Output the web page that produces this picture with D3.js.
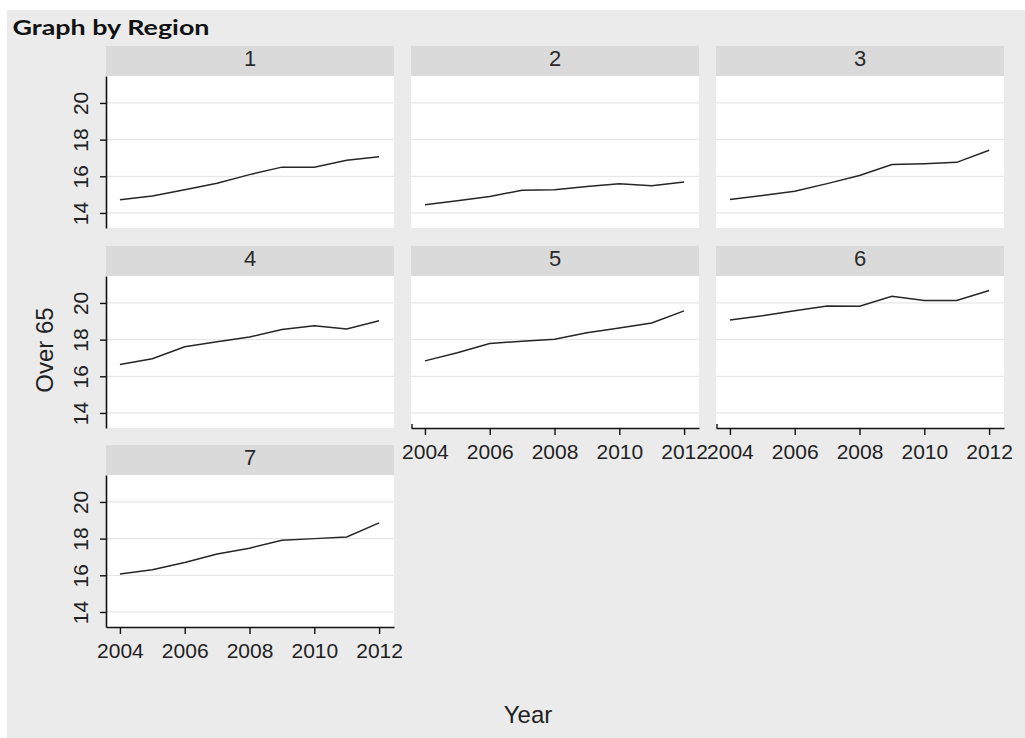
<!DOCTYPE html>
<html>
<head>
<meta charset="utf-8">
<script src="https://cdn.jsdelivr.net/npm/d3@7"></script>
<style>
  html, body { margin: 0; padding: 0; background: #ffffff; }
  svg { display: block; }
</style>
</head>
<body>
<svg id="chart" width="1025" height="738"></svg>
<script>
// ---- data ----
const years = [2004, 2005, 2006, 2007, 2008, 2009, 2010, 2011, 2012];
const regions = ["1", "2", "3", "4", "5", "6", "7"];
const region1 = [14.72, 14.92, 15.27, 15.62, 16.09, 16.50, 16.50, 16.87, 17.07];
const region2 = [14.45, 14.67, 14.90, 15.24, 15.27, 15.45, 15.60, 15.49, 15.69];
const region3 = [14.73, 14.95, 15.18, 15.60, 16.04, 16.64, 16.69, 16.76, 17.42];
const region4 = [16.64, 16.96, 17.61, 17.88, 18.14, 18.55, 18.76, 18.58, 19.03];
const region5 = [16.84, 17.28, 17.79, 17.91, 18.02, 18.38, 18.63, 18.91, 19.57];
const region6 = [19.07, 19.30, 19.57, 19.84, 19.82, 20.36, 20.14, 20.14, 20.68];
const region7 = [16.07, 16.30, 16.70, 17.16, 17.48, 17.91, 18.00, 18.09, 18.86];
const seriesValues = [region1, region2, region3, region4, region5, region6, region7];
const yTicks = [14, 16, 18, 20];
const xTicks = [2004, 2006, 2008, 2010, 2012];
const titleText = "Graph by Region";
const xTitle = "Year";
const yTitle = "Over 65";

// ---- layout ----
const SANS = "'Liberation Sans', Arial, sans-serif";
const svg = d3.select("#chart").attr("font-family", SANS);
svg.append("rect").attr("x", 0).attr("y", 0).attr("width", 1025).attr("height", 738).attr("fill", "#ffffff");
svg.append("rect").attr("x", 7).attr("y", 10).attr("width", 1018).attr("height", 728).attr("fill", "#ebebeb");

const colX = [106, 411, 716];
const rowTop = [76, 276, 475];
const panelW = 288, panelH = 152, stripH = 30;
const xDomain = [2003.57, 2012.46];
const yDomain = [13.18, 21.47];

const hasYAxis = i => i % 3 === 0;
const hasXAxis = i => i >= 4; // panels 5,6,7

svg.append("text")
  .attr("x", 12.5).attr("y", 35)
  .attr("font-family", "Lato, 'Open Sans', sans-serif")
  .attr("font-weight", "bold")
  .attr("font-size", 20)
  .attr("fill", "#111")
  .attr("textLength", 197)
  .attr("lengthAdjust", "spacingAndGlyphs")
  .text(titleText);

regions.forEach((name, i) => {
  const col = i % 3, row = Math.floor(i / 3);
  const x0 = colX[col], y0 = rowTop[row];
  const x = d3.scaleLinear().domain(xDomain).range([x0, x0 + panelW]);
  const y = d3.scaleLinear().domain(yDomain).range([y0 + panelH, y0]);
  const g = svg.append("g");

  // strip
  g.append("rect").attr("x", x0).attr("y", y0 - stripH).attr("width", panelW).attr("height", stripH).attr("fill", "#dadada");
  g.append("text").attr("x", x0 + panelW / 2).attr("y", y0 - stripH + 20)
    .attr("text-anchor", "middle").attr("font-size", 22).attr("fill", "#2a2a2a").text(name);

  // plot area
  g.append("rect").attr("x", x0).attr("y", y0).attr("width", panelW).attr("height", panelH).attr("fill", "#ffffff");

  // gridlines
  g.selectAll("line.grid").data(yTicks).join("line").attr("class", "grid")
    .attr("x1", x0).attr("x2", x0 + panelW)
    .attr("y1", d => y(d)).attr("y2", d => y(d))
    .attr("stroke", "#e6e6e6").attr("stroke-width", 1.2);

  // series line
  const vals = seriesValues[i];
  const line = d3.line().x((d, k) => x(years[k])).y(d => y(d));
  g.append("path").datum(vals).attr("d", line)
    .attr("fill", "none").attr("stroke", "#262626").attr("stroke-width", 1.5);

  // y axis
  if (hasYAxis(i)) {
    const ya = g.append("g").attr("transform", `translate(${x0},0)`)
      .call(d3.axisLeft(y).tickValues(yTicks).tickSize(6).tickSizeOuter(0).tickFormat(d3.format("d")));
    ya.attr("font-family", SANS);
    ya.select(".domain").attr("stroke", "#111").attr("stroke-width", 1.6);
    ya.selectAll(".tick line").attr("stroke", "#111").attr("stroke-width", 1.4);
    ya.selectAll(".tick text")
      .attr("transform", "rotate(-90)")
      .attr("x", 0).attr("y", -18).attr("dy", 0)
      .attr("text-anchor", "middle")
      .attr("font-size", 21).attr("fill", "#222");
  }

  // x axis
  if (hasXAxis(i)) {
    const xa = g.append("g").attr("transform", `translate(0,${y0 + panelH})`)
      .call(d3.axisBottom(x).tickValues(xTicks).tickSize(7).tickSizeOuter(0).tickFormat(d3.format("d")));
    xa.attr("font-family", SANS);
    xa.select(".domain").attr("stroke", "#111").attr("stroke-width", 1.6);
    xa.selectAll(".tick line").attr("stroke", "#111").attr("stroke-width", 1.4);
    xa.selectAll(".tick text")
      .attr("y", 31).attr("dy", 0)
      .attr("font-size", 21).attr("fill", "#222");
    if (!hasYAxis(i)) {
      g.append("path")
        .attr("d", d3.line()([[x0 + 1, y0 + panelH - 4], [x0 + 1, y0 + panelH]]))
        .attr("stroke", "#111").attr("stroke-width", 1.4).attr("fill", "none");
    }
  }
});

// axis titles
svg.append("text").attr("x", 528).attr("y", 723).attr("text-anchor", "middle")
  .attr("font-size", 24).attr("fill", "#222").text(xTitle);
svg.append("text").attr("transform", "translate(53,350) rotate(-90)").attr("text-anchor", "middle")
  .attr("font-size", 24).attr("fill", "#222").text(yTitle);
</script>
</body>
</html>
